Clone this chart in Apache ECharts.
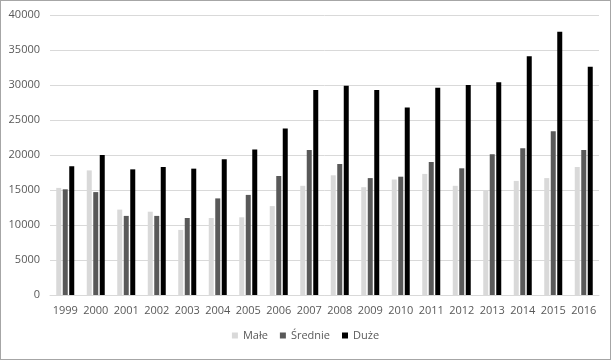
<!DOCTYPE html>
<html><head><meta charset="utf-8">
<script src="https://cdn.jsdelivr.net/npm/echarts@6/dist/echarts.min.js"></script>
<style>
html,body{margin:0;padding:0;background:#fff;}
#c{position:absolute;left:0;top:0;width:611px;height:360px;box-sizing:border-box;border:1px solid #a6a6a6;}
</style></head>
<body><div id="c"></div>
<script>
const years = ['1999','2000','2001','2002','2003','2004','2005','2006','2007','2008','2009','2010','2011','2012','2013','2014','2015','2016'];
const male   = [15300,17800,12200,11900,9300,11000,11100,12700,15600,17100,15400,16500,17300,15600,14900,16300,16700,18300];
const srednie= [15100,14700,11300,11300,11000,13800,14300,17000,20700,18700,16700,16900,19000,18100,20100,20950,23400,20700];
const duze   = [18400,20000,17950,18300,18050,19400,20800,23800,29300,29900,29300,26800,29600,30000,30400,34100,37600,32600];
const seriesNames = ['Małe','Średnie','Duże'];
const yTicks = {min:0, max:40000, interval:5000};

const font = 'Open Sans';
const chart = echarts.init(document.getElementById('c'), null, {renderer:'canvas'});
chart.setOption({
  animation:false,
  backgroundColor:'#fff',
  color:['#d9d9d9','#595959','#000000'],
  grid:{left:49, right:11, top:14, bottom:64, containLabel:false},
  legend:{
    bottom:13, left:'center',
    itemWidth:6, itemHeight:6, itemGap:12,
    icon:'rect',
    textStyle:{color:'#595959', fontFamily:font, fontSize:11},
    data:seriesNames
  },
  xAxis:{
    type:'category', data:years,
    axisLine:{show:true, lineStyle:{color:'#d9d9d9'}},
    axisTick:{show:false},
    axisLabel:{color:'#595959', fontFamily:font, fontSize:11, margin:10, interval:0}
  },
  yAxis:{
    type:'value', min:yTicks.min, max:yTicks.max, interval:yTicks.interval,
    axisLine:{show:false}, axisTick:{show:false},
    splitLine:{lineStyle:{color:'#d9d9d9', width:1}},
    axisLabel:{color:'#595959', fontFamily:font, fontSize:11, margin:10, formatter:function(v){return String(v);}}
  },
  series:[
    {name:seriesNames[0], type:'bar', data:male, barWidth:5, barGap:'30%'},
    {name:seriesNames[1], type:'bar', data:srednie, barWidth:5, barGap:'30%'},
    {name:seriesNames[2], type:'bar', data:duze, barWidth:5, barGap:'30%'}
  ]
});
</script></body></html>
